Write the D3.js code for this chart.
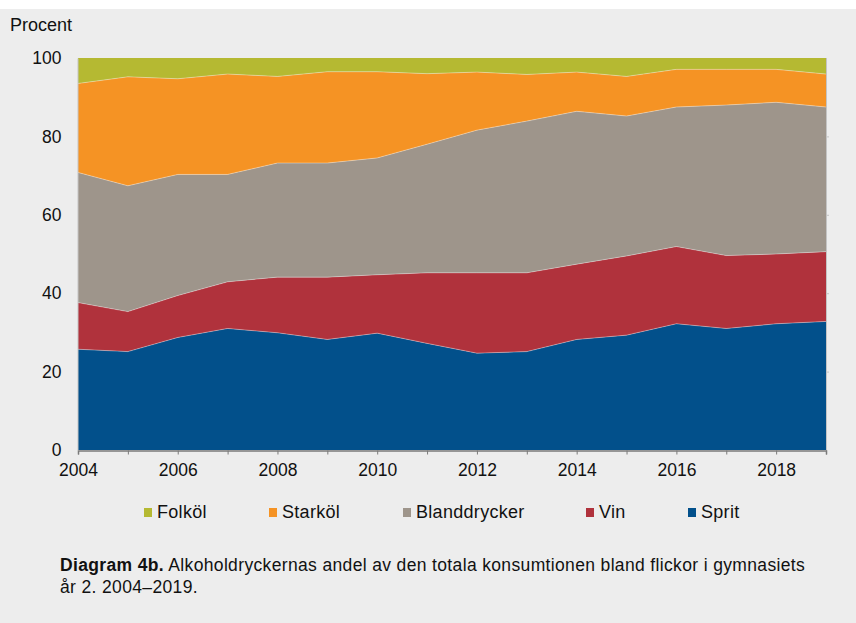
<!DOCTYPE html>
<html>
<head>
    <meta charset="utf-8">
    <title>Diagram 4b</title>
    <script type="text/javascript" src="https://cdn.jsdelivr.net/npm/d3@7"></script>
    <style>
        body { margin: 0; background: #fff; }
        svg text { font-family: "Liberation Sans", Arial, sans-serif; fill: #111; }
    </style>
</head>
<body>
<script type="text/javascript">
    var years = [2004, 2005, 2006, 2007, 2008, 2009, 2010, 2011,
        2012, 2013, 2014, 2015, 2016, 2017, 2018, 2019];

    // andel i procent, avlast ur bilden
    var sprit        = [25.7, 25.1, 28.7, 31.0, 29.9, 28.2, 29.8, 27.2, 24.7, 25.1, 28.2, 29.3, 32.2, 31.0, 32.2, 32.8];
    var vin          = [11.9, 10.2, 10.7, 11.9, 14.2, 15.9, 14.9, 18.0, 20.5, 20.1, 19.2, 20.2, 19.7, 18.6, 17.8, 17.8];
    var blanddrycker = [33.2, 32.1, 30.9, 27.4, 29.1, 29.1, 29.8, 32.8, 36.4, 38.7, 39.0, 35.7, 35.6, 38.4, 38.7, 36.9];
    var starkol      = [22.7, 27.8, 24.4, 25.6, 22.1, 23.3, 22.0, 18.0, 14.8, 11.9, 10.0, 10.1, 9.6, 9.1, 8.4, 8.4];
    var folkol       = [6.5, 4.8, 5.3, 4.1, 4.7, 3.5, 3.5, 4.0, 3.6, 4.2, 3.6, 4.7, 2.9, 2.9, 2.9, 4.1];

    var yTicks = [0, 20, 40, 60, 80, 100];
    var xLabels = [2004, 2006, 2008, 2010, 2012, 2014, 2016, 2018];

    var keys = ["Sprit", "Vin", "Blanddrycker", "Starköl", "Folköl"];
    var legendOrder = ["Folköl", "Starköl", "Blanddrycker", "Vin", "Sprit"];
    var colors = {
        "Sprit": "#02508b",
        "Vin": "#b0323c",
        "Blanddrycker": "#9e958b",
        "Starköl": "#f59324",
        "Folköl": "#b5b932"
    };

    var rows = years.map(function(y, i) {
        return {
            year: y,
            "Sprit": sprit[i],
            "Vin": vin[i],
            "Blanddrycker": blanddrycker[i],
            "Starköl": starkol[i],
            "Folköl": folkol[i]
        };
    });

    var w = 856, h = 623;
    var plotLeft = 78, plotRight = 826, plotTop = 58, plotBottom = 450;

    var svg = d3.select("body").append("svg")
            .attr("width", w)
            .attr("height", h);

    svg.append("rect")
            .attr("x", 0).attr("y", 9)
            .attr("width", w).attr("height", h - 9)
            .attr("fill", "#ededed");

    var x = d3.scaleLinear().domain([2004, 2019]).range([plotLeft, plotRight]);
    var y = d3.scaleLinear().domain([0, 100]).range([plotBottom, plotTop]);

    var series = d3.stack().keys(keys)(rows);

    var area = d3.area()
            .x(function(d) { return x(d.data.year); })
            .y0(function(d) { return y(d[0]); })
            .y1(function(d) { return y(d[1]); });

    svg.selectAll("path.layer")
            .data(series)
            .enter()
            .append("path")
            .attr("class", "layer")
            .attr("d", area)
            .attr("fill", function(d) { return colors[d.key]; });

    // ljusa skiljelinjer mellan ytorna
    var edge = d3.line()
            .x(function(d) { return x(d.data.year); })
            .y(function(d) { return y(d[1]); });

    svg.selectAll("path.edge")
            .data(series.slice(0, 4))
            .enter()
            .append("path")
            .attr("class", "edge")
            .attr("d", edge)
            .attr("fill", "none")
            .attr("stroke", "rgba(255,255,255,0.35)")
            .attr("stroke-width", 1);

    // ram till höger
    svg.append("line")
            .attr("x1", plotRight + 0.5).attr("x2", plotRight + 0.5)
            .attr("y1", plotTop).attr("y2", plotBottom)
            .attr("stroke", "#c4c4c4");
    svg.selectAll("line.rtick")
            .data(yTicks.slice(1, 5))
            .enter()
            .append("line")
            .attr("class", "rtick")
            .attr("x1", plotRight).attr("x2", plotRight + 3)
            .attr("y1", function(d) { return y(d) + 0.5; })
            .attr("y2", function(d) { return y(d) + 0.5; })
            .attr("stroke", "#c4c4c4");

    // x-axel
    var xAxis = d3.axisBottom(x)
            .tickValues(years)
            .tickSize(4)
            .tickFormat(function(d) { return xLabels.indexOf(d) >= 0 ? d : ""; });

    var gx = svg.append("g")
            .attr("transform", "translate(0," + (plotBottom + 0.5) + ")")
            .call(xAxis);
    gx.select(".domain").attr("stroke", "#7a7a7a").attr("stroke-width", 1.5);
    gx.selectAll(".tick line").attr("stroke", "#7a7a7a");
    gx.selectAll(".tick text")
            .attr("y", 13)
            .attr("font-size", "17.5px")
            .attr("font-family", "Liberation Sans, Arial, sans-serif")
            .attr("fill", "#111");

    // y-axel
    var yAxis = d3.axisLeft(y)
            .tickValues(yTicks)
            .tickSize(0)
            .tickPadding(16);

    var gy = svg.append("g")
            .attr("transform", "translate(" + (plotLeft - 0.5) + ",0)")
            .call(yAxis);
    gy.select(".domain").attr("stroke", "#c4c4c4");
    gy.selectAll(".tick text")
            .attr("font-size", "17.5px")
            .attr("font-family", "Liberation Sans, Arial, sans-serif")
            .attr("fill", "#111");

    svg.append("text")
            .attr("x", 10)
            .attr("y", 31)
            .attr("font-size", "18px")
            .text("Procent");

    // legend
    var legendX = [144, 269, 403, 586, 688];
    var leg = svg.selectAll("g.leg")
            .data(legendOrder)
            .enter()
            .append("g")
            .attr("class", "leg")
            .attr("transform", function(d, i) { return "translate(" + legendX[i] + ",507)"; });
    leg.append("rect")
            .attr("width", 8).attr("height", 9)
            .attr("y", 1)
            .attr("fill", function(d) { return colors[d]; });
    leg.append("text")
            .attr("x", 13)
            .attr("y", 11)
            .attr("font-size", "18px")
            .attr("letter-spacing", "0.3px")
            .text(function(d) { return d; });

    // bildtext
    var cap = svg.append("text")
            .attr("x", 60)
            .attr("y", 571)
            .attr("font-size", "17.5px")
            .attr("letter-spacing", "0.35px");
    cap.append("tspan").attr("font-weight", "bold").text("Diagram 4b.");
    cap.append("tspan").text(" Alkoholdryckernas andel av den totala konsumtionen bland flickor i gymnasiets");
    svg.append("text")
            .attr("x", 60)
            .attr("y", 593)
            .attr("font-size", "17.5px")
            .attr("letter-spacing", "0.35px")
            .text("år 2. 2004–2019.");
</script>
</body>
</html>
